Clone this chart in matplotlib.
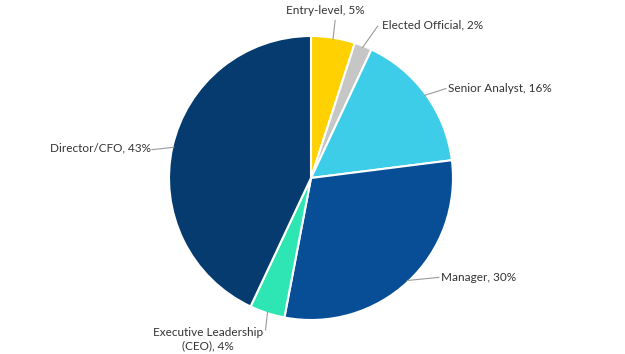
import matplotlib.pyplot as plt
import numpy as np

labels = ['Entry-level', 'Elected Official', 'Senior Analyst', 'Manager',
          'Executive Leadership\n(CEO)', 'Director/CFO']
shares = [5, 2, 16, 30, 4, 43]
colors = ['#FFD100', '#C6C6C6', '#3DCDE8', '#074E97', '#2EE6B4', '#053B6F']

# label text position (data coords), alignment, leader-line elbow
label_pos = [(0.10, 1.18, 'center'), (0.50, 1.08, 'left'), (0.965, 0.63, 'left'),
             (0.915, -0.70, 'left'), (-0.725, -1.135, 'center'), (-1.13, 0.21, 'right')]
line_end = [(0.17, 1.11), (0.47, 1.07), (0.95, 0.63), (0.90, -0.70),
            (-0.32, -1.07), (-1.12, 0.20)]

plt.rcParams['font.family'] = ['Lato', 'DejaVu Sans']

fig = plt.figure(figsize=(6.25, 3.54), dpi=100)
r = 142
cx, cy = 311, 354 - 178
ax = fig.add_axes([(cx - r) / 625, (cy - r) / 354, 2 * r / 625, 2 * r / 354])

wedges, _ = ax.pie(shares, colors=colors, startangle=90, counterclock=False,
                   radius=1, wedgeprops=dict(edgecolor='white', linewidth=1.5))
ax.set_xlim(-1, 1)
ax.set_ylim(-1, 1)
ax.axis('off')

start = 90.0
for lab, s, (tx, ty, ha), (lx, ly) in zip(labels, shares, label_pos, line_end):
    mid = np.deg2rad(start - s * 3.6 / 2)
    start -= s * 3.6
    ex, ey = np.cos(mid) * 0.99, np.sin(mid) * 0.99
    ax.plot([ex, lx], [ey, ly], color='#9a9a9a', lw=0.8, clip_on=False)
    txt = lab + ', ' + str(s) + '%'
    ax.text(tx, ty, txt, ha=ha, va='center', fontsize=8.5, color='#333333',
            multialignment='center', linespacing=1.3, clip_on=False)

fig.savefig('out.png', dpi=100)
